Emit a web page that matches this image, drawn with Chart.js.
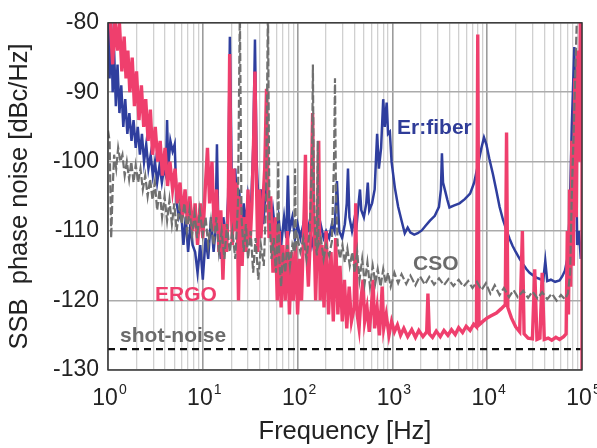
<!DOCTYPE html>
<html lang="en">
<head>
<meta charset="UTF-8">
<title>SSB phase noise</title>
<script src="https://cdn.jsdelivr.net/npm/chart.js"></script>
<style>
  html, body { margin: 0; padding: 0; background: #fff; }
  #wrap { width: 597px; height: 448px; }
</style>
</head>
<body>
<div id="wrap"><canvas id="noiseChart" width="597" height="448"></canvas></div>
<script>
// [frequency Hz, dBc/Hz]
const ergoPts = [
  [1,-79],[1.05,-79],[1.12,-86],[1.18,-79],[1.25,-84],[1.32,-80],[1.4,-87],[1.48,-82],[1.55,-88],[1.62,-84],
  [1.7,-90],[1.8,-85],[1.9,-92],[2,-87],[2.12,-94],[2.25,-89],[2.38,-95],[2.5,-91],[2.65,-97],[2.8,-92.5],
  [2.95,-99],[3.15,-95],[3.35,-100],[3.55,-97],[3.75,-102],[4,-98],[4.25,-103.5],[4.5,-100],[4.8,-104],[5.1,-101],
  [5.4,-106],[5.75,-103],[6.1,-108],[6.5,-104],[6.9,-109],[7.3,-105],[7.8,-110],[8.3,-106],[8.8,-112],[9.4,-106],
  [10,-111],[10.6,-104],[11.2,-98],[11.8,-106],[12.5,-100],[13.2,-110],[14,-104],[14.8,-113],[15.5,-107],[16.3,-117],
  [17,-109],[17.8,-113],[18.6,-106],[19.2,-84.5],[19.8,-104],[20.5,-112],[21.3,-101],[22,-110],[22.9,-103],[23.8,-120],
  [24.8,-105],[26,-115],[27,-108],[28.5,-113],[30,-104],[31.5,-112],[33,-106],[34.5,-96],[35.5,-87],[36.5,-100],
  [38,-113],[39.5,-104],[41,-111],[43,-106],[45,-101],[47,-89.5],[48.5,-103],[50,-111],[52,-105],[55,-116],
  [58,-108],[61,-120],[64,-110],[67,-121],[70,-112],[74,-120],[78,-110],[82,-122],[86,-113],[90,-120],
  [95,-112],[100,-122],[105,-114],[110,-120],[118,-106],[121,-99],[124,-112],[130,-118],[137,-110],[144,-93],
  [148,-108],[155,-120],[161,-112],[167,-97],[173,-120],[181,-112],[190,-121],[200,-110],[212,-122],[225,-113],
  [238,-123],[252,-111],[266,-122],[280,-115],[296,-123],[312,-117],[330,-124],[350,-118],[370,-123],[395,-121],
  [410,-106],[425,-122],[445,-124],[465,-120],[490,-117],[510,-123],[540,-121],[570,-124.5],[600,-121],[625,-117],
  [650,-124],[690,-121],[730,-125],[760,-121],[780,-118],[810,-124],[860,-122],[920,-125],[980,-123],[1050,-124.5],
  [1130,-123.5],[1220,-125],[1320,-124],[1450,-125.2],[1600,-124.2],[1750,-125.3],[1900,-124.3],[2100,-125.2],[2300,-124.5],[2370,-119],
  [2450,-124.8],[2650,-125.3],[2900,-124.4],[3200,-125.2],[3500,-124.3],[3850,-125],[4200,-124.2],[4600,-124.9],[5000,-123.9],[5500,-124.6],
  [6000,-123.7],[6600,-124.3],[7200,-123.4],[7700,-123.8],[7950,-81.7],[8200,-123.5],[9000,-123],[10000,-122.5],[11000,-122.2],[12500,-121.8],
  [14000,-121.2],[15500,-120.6],[16000,-95.8],[16500,-121],[18000,-122.5],[20000,-123.8],[22000,-124.5],[23500,-110],[24500,-124.8],[27000,-125.4],
  [30000,-125.5],[31700,-115.5],[33500,-125.6],[36000,-125.4],[38000,-116],[40000,-125.6],[44000,-125.4],[48000,-125.7],[53000,-125.3],[58000,-125.6],
  [64000,-125.2],[68000,-124.8],[70000,-110],[72000,-122],[74000,-104],[76000,-118],[78000,-97],[81000,-115],[84000,-88],[87000,-108],
  [90000,-84],[93000,-100],[96000,-80],[99000,-79],[100000,-79],[100000,-131]
];

const fiberPts = [
  [1,-79],[1.04,-88],[1.08,-80],[1.12,-90],[1.16,-84],[1.21,-92],[1.26,-86],[1.32,-93],[1.38,-89],[1.45,-95],
  [1.52,-91],[1.6,-96],[1.68,-93],[1.77,-97],[1.86,-94],[1.96,-98],[2.06,-95],[2.17,-99],[2.28,-96],[2.4,-100],
  [2.53,-97.5],[2.67,-101],[2.82,-99],[2.97,-102],[3.13,-100],[3.3,-103],[3.5,-100.5],[3.7,-103],[3.9,-101],[4.08,-102],
  [4.2,-94],[4.32,-101],[4.55,-97],[4.8,-98.5],[5.05,-97.5],[5.3,-106],[5.6,-108],[5.9,-107],[6.25,-112],[6.6,-108],
  [7,-113],[7.4,-109],[7.8,-112],[8.3,-113],[8.8,-116],[9.4,-112],[10,-117],[10.7,-111],[11.4,-114],[12.2,-108],
  [13,-113],[13.6,-110],[14.1,-97.5],[14.6,-110],[15.5,-114],[16.5,-108],[17.5,-112],[18.5,-105],[19.3,-82],[20.2,-103],
  [21,-108],[22,-101],[23,-107],[24.2,-104],[25.5,-110],[27,-106],[28.5,-109],[30,-105],[32,-108],[34,-98],
  [35.5,-82.4],[37,-100],[39,-107],[41,-104],[43.5,-109],[46,-104],[49,-106],[52,-110],[55,-107],[59,-111],
  [63,-108],[67,-112],[72,-108],[76,-111],[79,-102],[82,-110],[88,-108],[94,-111],[100,-109],[107,-111],
  [115,-109],[123,-111],[132,-109],[142,-112],[152,-110],[163,-111],[175,-109],[188,-111],[200,-110],[215,-111],
  [230,-109],[245,-110],[260,-102.8],[275,-110],[295,-111],[315,-109],[330,-106],[340,-101],[352,-108],[375,-110],
  [400,-108],[420,-109],[440,-106],[455,-104],[470,-107],[500,-108],[530,-106],[550,-103],[570,-107],[610,-106],
  [650,-104],[690,-96],[720,-101],[760,-98],[800,-91],[830,-95],[870,-91.5],[900,-96],[940,-95.7],[980,-100],
  [1060,-103.7],[1150,-106.5],[1250,-108.5],[1350,-110.3],[1450,-109.5],[1550,-110.2],[1700,-110.5],[1850,-110.3],[2040,-109.9],[2250,-109.2],
  [2490,-108.5],[2800,-107.8],[3100,-106.5],[3250,-104],[3330,-98.8],[3420,-103],[3600,-104.2],[3800,-105.5],[4000,-106.6],[4500,-106.3],
  [5100,-106],[5800,-105.4],[6600,-104.6],[7300,-103],[8000,-100.4],[8700,-98],[9250,-96.5],[9800,-97.5],[10500,-99.5],[11500,-101.8],
  [12500,-104.2],[13500,-106.5],[14700,-108.4],[16000,-109.9],[17200,-111.1],[18500,-112.1],[20000,-113],[22000,-114],[24000,-114.8],[26000,-115.5],
  [28000,-116],[30000,-116.3],[33000,-116.7],[36000,-116.9],[39000,-117.1],[41000,-114.3],[43000,-117.2],[47000,-117],[52000,-117.3],[58000,-117.1],
  [62000,-116.5],[66000,-115.7],[70000,-114],[74000,-108],[78000,-95],[83000,-83.5],[86000,-98],[89000,-112],[93000,-110],[97000,-114]
];

const csoPts = [
  [1,-95.5],[1.04,-97],[1.08,-111],[1.12,-104],[1.16,-99],[1.22,-101],[1.28,-98],[1.35,-100],[1.42,-99],[1.5,-102],
  [1.58,-100],[1.67,-102.5],[1.76,-100],[1.86,-103],[1.96,-100.5],[2.08,-103],[2.2,-101],[2.33,-104],[2.47,-102],[2.62,-105],
  [2.78,-102.5],[2.95,-105.5],[3.12,-103],[3.3,-107],[3.5,-104],[3.72,-108],[3.95,-105],[4.2,-108.5],[4.45,-105.5],[4.72,-109],
  [5,-106],[5.3,-110],[5.65,-106.5],[6,-109],[6.4,-106],[6.8,-110],[7.25,-107],[7.7,-110.5],[8.2,-107.5],[8.7,-111],
  [9.3,-107],[10,-110.5],[10.7,-108],[11.4,-112],[12.2,-108.5],[13,-112],[13.9,-108],[14.8,-113],[15.8,-110],[16.9,-114],
  [18,-109],[19.2,-113],[20.5,-110],[22,-114],[23.5,-106],[24.6,-78],[25.6,-108],[27,-113],[28.5,-109],[30,-114],
  [32,-110],[34,-116],[36,-111],[38.5,-117],[41,-112],[44,-115],[46.5,-106],[48.6,-78],[50.5,-108],[53,-114],
  [56,-111],[59,-116],[61,-112],[62.5,-100],[64,-114],[67,-118],[70,-113],[74,-116],[78,-112],[83,-115],
  [88,-112],[92,-113],[94,-101],[96,-112],[100,-111],[107,-113],[115,-111],[124,-114],[134,-110],[142,-100],
  [145,-86],[148,-104],[155,-112],[160,-113.5],[163,-97],[166,-112],[176,-111],[188,-114],[200,-112],[215,-113.5],
  [230,-111.5],[242,-100],[248,-88],[254,-105],[265,-112],[280,-114],[297,-112],[315,-114.5],[335,-112.5],[355,-115],
  [378,-113],[400,-116],[425,-113],[450,-117],[480,-114],[510,-117.5],[545,-114.5],[580,-118],[620,-115],[660,-117.5],
  [700,-115.5],[750,-118],[800,-115.5],[850,-117.5],[900,-116],[960,-118],[1050,-116],[1150,-117.5],[1250,-116.2],[1400,-117.6],
  [1550,-116.4],[1750,-117.8],[1950,-116.5],[2200,-117.7],[2450,-116.6],[2750,-117.7],[3100,-116.8],[3500,-117.8],[3900,-116.9],[4400,-117.9],
  [5000,-117],[5600,-118],[6300,-117.2],[7000,-118.2],[7800,-117.3],[8700,-118.5],[9700,-117.5],[10800,-119],[12000,-117.8],[13500,-119.2],
  [15000,-118.2],[17000,-119.5],[19000,-118.5],[21000,-119.5],[24000,-118.6],[27000,-119.6],[30000,-118.7],[34000,-119.7],[38000,-118.8],[43000,-119.8],
  [48000,-119],[54000,-120],[60000,-119.2],[66000,-119.8],[71000,-119],[75000,-116],[78000,-105],[82000,-95],[85000,-87],[88000,-80],
  [92000,-78]
];

const shotNoiseDb = -127;
const yTicks = [-130, -120, -110, -100, -90, -80];
const decadeExps = ['0', '1', '2', '3', '4', '5'];

const curveNotes = [
  { text: 'Er:fiber', hz: 1120, db: -95.2, color: '#2f3c98' },
  { text: 'CSO', hz: 1650, db: -114.8, color: '#6b6b6b' },
  { text: 'ERGO', hz: 3.13, db: -119.2, color: '#ee3d6c' },
  { text: 'shot-noise', hz: 1.34, db: -125.2, color: '#6b6b6b' }
];

const FONT = '"Liberation Sans", Arial, Helvetica, sans-serif';
const xGrid = [];
for (let d = 1; d < 100000; d *= 10) for (let m = 1; m < 10; m++) xGrid.push(m * d);
xGrid.push(100000);
const isDecade = v => Math.abs(Math.log10(v) - Math.round(Math.log10(v))) < 1e-9;
const toXY = pts => pts.map(([x, y]) => ({ x, y }));

const decor = {
  id: 'decor',
  afterDatasetsDraw(chart) {
    const { ctx, chartArea: a, scales: { x, y } } = chart;
    ctx.save();
    ctx.strokeStyle = '#333';
    ctx.lineWidth = 1.4;
    ctx.strokeRect(a.left, a.top, a.right - a.left, a.bottom - a.top);

    ctx.textAlign = 'left';
    ctx.textBaseline = 'middle';
    ctx.font = 'bold 21px ' + FONT;
    curveNotes.forEach(n => {
      ctx.fillStyle = n.color;
      ctx.fillText(n.text, x.getPixelForValue(n.hz), y.getPixelForValue(n.db));
    });

    // decade labels 10^k
    ctx.textBaseline = 'alphabetic';
    ctx.fillStyle = '#222';
    decadeExps.forEach((e, k) => {
      const px = x.getPixelForValue(Math.pow(10, k));
      ctx.font = '23px ' + FONT;
      const w1 = ctx.measureText('10').width;
      ctx.font = '14px ' + FONT;
      const w2 = ctx.measureText(e).width;
      const x0 = px - (w1 + w2) / 2 + 1;
      ctx.font = '23px ' + FONT;
      ctx.fillText('10', x0, 405);
      ctx.font = '14px ' + FONT;
      ctx.fillText(e, x0 + w1 + 1, 394);
    });
    ctx.restore();
  }
};

new Chart(document.getElementById('noiseChart'), {
  type: 'line',
  data: {
    datasets: [
      { label: 'CSO', data: toXY(csoPts), borderColor: '#707070', borderWidth: 2.2, borderDash: [8, 3] },
      { label: 'ERGO', data: toXY(ergoPts), borderColor: '#ef3f6d', borderWidth: 3.4 },
      { label: 'Er:fiber', data: toXY(fiberPts), borderColor: '#2f3e9e', borderWidth: 2.5 },
      { label: 'shot-noise', data: [{ x: 1, y: shotNoiseDb }, { x: 100000, y: shotNoiseDb }],
        borderColor: '#111', borderWidth: 2.2, borderDash: [7, 5] }
    ]
  },
  options: {
    responsive: false,
    animation: false,
    elements: { point: { radius: 0 }, line: { tension: 0, borderJoinStyle: 'miter' } },
    layout: { padding: { top: 15, right: 15, left: 0, bottom: 0 } },
    plugins: { legend: { display: false }, tooltip: { enabled: false } },
    scales: {
      x: {
        type: 'logarithmic',
        min: 1,
        max: 100000,
        afterBuildTicks: s => { s.ticks = xGrid.map(v => ({ value: v })); },
        afterFit: s => { s.height = 78; },
        ticks: { display: false },
        grid: {
          drawTicks: false,
          color: c => (c.tick && isDecade(c.tick.value)) ? '#9c9c9c' : '#d0d0d0',
          lineWidth: c => (c.tick && isDecade(c.tick.value)) ? 1.6 : 1.3
        },
        border: { display: false },
        title: { display: true, text: 'Frequency [Hz]', color: '#222',
                 font: { family: FONT, size: 25.5 }, padding: { top: 0, bottom: 1 } }
      },
      y: {
        min: -130,
        max: -80,
        afterBuildTicks: s => { s.ticks = yTicks.map(v => ({ value: v })); },
        afterFit: s => { s.width = 108; },
        ticks: { color: '#222', font: { family: FONT, size: 23 }, padding: 9, callback: v => String(v) },
        grid: { drawTicks: false, color: '#ababab', lineWidth: 1.6 },
        border: { display: false },
        title: { display: true, text: 'SSB  phase noise [dBc/Hz]', color: '#222',
                 font: { family: FONT, size: 25.5 }, padding: { top: 5, bottom: 0 } }
      }
    }
  },
  plugins: [decor]
});
</script>
</body>
</html>
